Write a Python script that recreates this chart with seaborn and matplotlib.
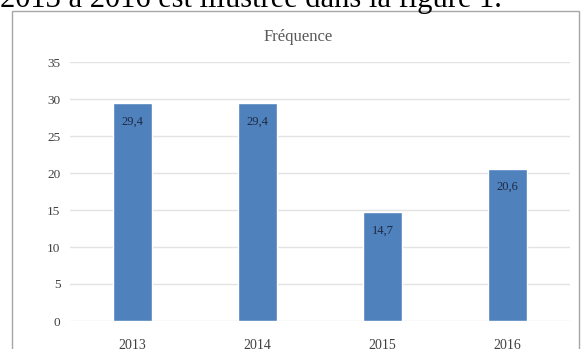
import pandas as pd
import seaborn as sns
import matplotlib.pyplot as plt
from matplotlib.patches import Rectangle

annees = ['2013', '2014', '2015', '2016']
frequence = [29.4, 29.4, 14.7, 20.6]
etiquettes = ['29,4', '29,4', '14,7', '20,6']

df = pd.DataFrame({'annee': annees, 'freq': frequence})

sns.set_style('white')
plt.rcParams['font.family'] = ['Liberation Serif', 'DejaVu Serif']

fig = plt.figure(figsize=(5.82, 3.49), dpi=100)

# texte du document coupé en haut
fig.text(0.0, 1 - 7 / 349, '2013 à 2016 est illustrée dans la figure 1.',
         fontsize=22, color='black', ha='left', va='baseline')

# cadre du graphique
fig.patches.append(Rectangle((12 / 582, -0.05), 567 / 582, 1.05 - 11 / 349,
                             transform=fig.transFigure, fill=False,
                             edgecolor='#a6a6a6', linewidth=1.0))

ax = fig.add_axes([70 / 582, 28 / 349, 500 / 582, 259 / 349])
sns.barplot(data=df, x='annee', y='freq', color='#4f81bd', saturation=1,
            width=0.31, ax=ax, zorder=3)

ax.set_ylim(0, 35)
ax.set_yticks(range(0, 36, 5))
ax.yaxis.grid(True, color='#e3e3e3', linewidth=1.0, zorder=0)
ax.set_axisbelow(True)
for s in ax.spines.values():
    s.set_visible(False)
ax.set_xlabel('')
ax.set_ylabel('')
ax.tick_params(axis='y', length=0, pad=7, labelsize=9.5, labelcolor='#404040')
ax.tick_params(axis='x', length=0, pad=13, labelsize=10, labelcolor='#404040')

for p, lab in zip(ax.patches, etiquettes):
    ax.annotate(lab, (p.get_x() + p.get_width() / 2, p.get_height()),
                xytext=(0, -13), textcoords='offset points',
                ha='center', va='center', fontsize=9, color='#1f2a44')

fig.text(298 / 582, 1 - 37 / 349, 'Fréquence', ha='center', va='center',
         fontsize=12, color='#595959')

fig.savefig('out.png', dpi=100)
